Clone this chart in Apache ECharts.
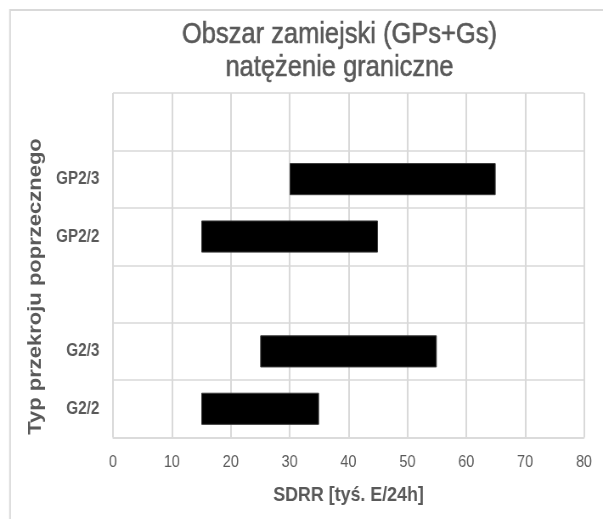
<!DOCTYPE html>
<html>
<head>
<meta charset="utf-8">
<script src="https://cdn.jsdelivr.net/npm/echarts@6/dist/echarts.min.js"></script>
<style>
html, body { margin: 0; padding: 0; background: #ffffff; overflow: hidden; }
#chart { position: absolute; left: 0; top: 0; width: 710px; height: 519px; transform: scaleX(0.849296); transform-origin: 0 0; }
</style>
</head>
<body>
<div id="chart"></div>
<script>
// Data
const categories = ['G2/2', 'G2/3', '', 'GP2/2', 'GP2/3', ' '];
const rangeStart = [15, 25, null, 15, 30, null];
const rangeEnd = [35, 55, null, 45, 65, null];
const xMin = 0;
const xMax = 80;
const xStep = 10;
const titleLines = ['Obszar zamiejski (GPs+Gs)', 'natężenie graniczne'];
const xAxisName = 'SDRR [tyś. E/24h]';
const yAxisName = 'Typ przekroju poprzecznego';

const FONT = 'Liberation Sans, Arial, Helvetica, sans-serif';
const TXT = '#595959';
const GRID = '#d9d9d9';

const baseData = rangeStart.map(v => (v == null ? '-' : v));
const spanData = rangeStart.map((v, i) => (v == null || rangeEnd[i] == null ? '-' : rangeEnd[i] - v));

const chart = echarts.init(document.getElementById('chart'), null, { renderer: 'canvas' });
chart.setOption({
  animation: false,
  backgroundColor: '#ffffff',
  title: {
    text: titleLines.join('\n'),
    left: 394.7,
    top: 13,
    textAlign: 'center',
    textStyle: { fontFamily: FONT, fontSize: 30, fontWeight: 'normal', color: TXT, lineHeight: 33,
                 textBorderColor: TXT, textBorderWidth: 0.6 }
  },
  graphic: [{
    type: 'rect', silent: true, z: -10,
    shape: { x: 11.8, y: 10, width: 900, height: 700 },
    style: { fill: 'none', stroke: GRID, lineWidth: 2 }
  }],
  grid: { left: 133.05, right: 22.4, top: 93, bottom: 81.5, containLabel: false },
  xAxis: {
    type: 'value', min: xMin, max: xMax, interval: xStep,
    name: xAxisName, nameLocation: 'middle', nameGap: 58,
    nameTextStyle: { fontFamily: FONT, fontSize: 21, fontWeight: 'bold', color: TXT, verticalAlign: 'middle', align: 'center' },
    axisLine: { show: true, lineStyle: { color: GRID, width: 1.5 } },
    axisTick: { show: false },
    axisLabel: { fontFamily: FONT, fontSize: 17, color: TXT, margin: 16.5 },
    splitLine: { show: true, lineStyle: { color: GRID, width: 2 } }
  },
  yAxis: {
    type: 'category', data: categories, boundaryGap: true,
    name: yAxisName, nameLocation: 'middle', nameGap: 91.3, nameRotate: 90,
    nameTextStyle: { fontFamily: FONT, fontSize: 22, fontWeight: 'bold', color: TXT, verticalAlign: 'middle', align: 'center', padding: [0, 42.5, 0, 0] },
    axisLine: { show: false },
    axisTick: { show: false },
    axisLabel: { fontFamily: FONT, fontSize: 18, fontWeight: 'bold', color: TXT, margin: 16 },
    splitLine: { show: true, lineStyle: { color: GRID, width: 1.5 } }
  },
  series: [
    {
      name: 'start', type: 'bar', stack: 'range', data: baseData,
      barCategoryGap: '44%', silent: true,
      itemStyle: { color: 'rgba(0,0,0,0)' },
      emphasis: { disabled: true }
    },
    {
      name: 'range', type: 'bar', stack: 'range', data: spanData,
      barCategoryGap: '44%',
      itemStyle: { color: '#000000', borderColor: '#3a3a3a', borderWidth: 1 }
    }
  ]
});
</script>
</body>
</html>
